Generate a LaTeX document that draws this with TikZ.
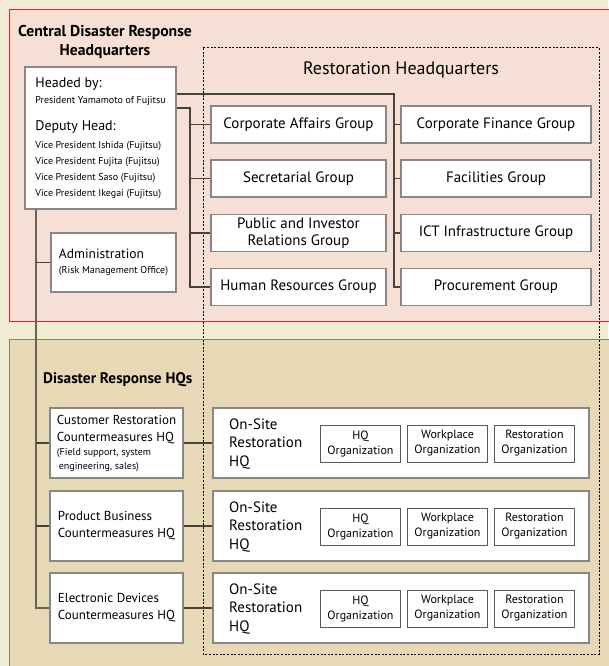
\documentclass[tikz,border=0pt]{standalone}
\usepackage{fontspec}
\setmainfont{PT Sans}
\usepackage{tikz}
\usetikzlibrary{positioning}
\definecolor{bgcream}{RGB}{239,235,212}
\definecolor{panelpink}{RGB}{246,223,213}
\definecolor{panelred}{RGB}{214,38,44}
\definecolor{paneltan}{RGB}{231,217,181}
\definecolor{tanline}{RGB}{140,136,85}
\definecolor{boxgray}{RGB}{135,135,135}
\definecolor{linegray}{RGB}{70,66,60}
\definecolor{trunkgray}{RGB}{105,98,88}
\tikzstyle{box}=[rectangle, draw=boxgray, fill=white, line width=1.4pt, inner sep=0pt]
\tikzstyle{group}=[box, minimum height=37pt, font=\fontsize{15}{16.5}\selectfont, align=center]
\tikzstyle{drbox}=[box, minimum width=133pt, minimum height=70pt, align=left, font=\fontsize{13}{17}\selectfont]
\tikzstyle{sitebox}=[box, minimum width=376pt, minimum height=70pt]
\tikzstyle{orgbox}=[box, draw=black!65, line width=1pt, minimum width=80pt, minimum height=37pt, font=\fontsize{12}{15}\selectfont, align=center]
\tikzstyle{conn}=[draw=linegray, line width=1.1pt]
\tikzstyle{trunk}=[draw=trunkgray, line width=1.8pt]

\begin{document}
\begin{tikzpicture}[x=1pt, y=-1pt]
        \useasboundingbox (0,0) rectangle (608,666);
        % background and the two panels
        \fill[bgcream] (0,0) rectangle (608,666);
        \fill[panelpink] (9,10) rectangle (612,321);
        \draw[panelred, line width=1pt] (612,10) -- (9,10) -- (9,321) -- (612,321);
        \fill[paneltan] (9,339) rectangle (612,670);
        \draw[tanline, line width=1pt] (612,339) -- (9,339) -- (9,670);
        \draw[dash pattern=on 2pt off 1.6pt, line width=1pt] (203,48) rectangle (599,654);

        \node[font=\bfseries\fontsize{15.7}{19}\selectfont, align=center] (cdrh) at (105,42) {Central Disaster Response\\Headquarters};
        \node[font=\fontsize{18}{20}\selectfont] (rhq) at (401,70) {Restoration Headquarters};
        \node[anchor=west, inner sep=0pt, font=\bfseries\fontsize{15.3}{17}\selectfont] (drhq) at (43,380) {Disaster Response HQs};

        \node[box, minimum width=151pt, minimum height=142pt, align=left, font=\fontsize{10}{16}\selectfont] (head) at (100.5,138)
          {{\fontsize{14}{16}\selectfont Headed by:}\\
           President Yamamoto of Fujitsu\\[11pt]
           {\fontsize{14}{16}\selectfont Deputy Head:}\\[2pt]
           Vice President Ishida (Fujitsu)\\
           Vice President Fujita (Fujitsu)\\
           Vice President Saso (Fujitsu)\\
           Vice President Ikegai (Fujitsu)};
        \node[box, minimum width=125pt, minimum height=59pt, align=left, font=\fontsize{13.5}{16}\selectfont] (admin) at (113.5,262.5)
          {Administration\\[-1pt]{\fontsize{10}{12}\selectfont(Risk Management Office)}};

        % restoration groups
        \node[group, minimum width=175pt] (corp) at (298.5,124.5) {Corporate Affairs Group};
        \node[group, minimum width=175pt] (secr) at (298.5,178.5) {Secretarial Group};
        \node[group, minimum width=175pt] (pir) at (298.5,233) {Public and Investor\\Relations Group};
        \node[group, minimum width=175pt] (hres) at (298.5,287) {Human Resources Group};
        \node[group, minimum width=190pt] (cfin) at (496,124.5) {Corporate Finance Group};
        \node[group, minimum width=190pt] (facil) at (496,178.5) {Facilities Group};
        \node[group, minimum width=190pt] (ict) at (496,233) {ICT Infrastructure Group};
        \node[group, minimum width=190pt] (proc) at (496,287) {Procurement Group};

        \coordinate (rj) at (394,94);
        \draw[conn] (head.east |- rj) -- (rj) |- (proc.west);
        \foreach \g in {cfin,facil,ict}
          \draw[conn] (rj |- \g.west) -- (\g.west);
        \coordinate (lj) at (190,108);
        \draw[conn] (head.east |- lj) -- (lj) |- (hres.west);
        \foreach \g in {corp,secr,pir}
          \draw[conn] (lj |- \g.west) -- (\g.west);

        % disaster response HQs
        \node[drbox] (cust) at (116.5,443)
          {Customer Restoration\\Countermeasures HQ\\[-3pt]
           {\fontsize{10}{12}\selectfont(Field support, system}\\[-3pt]
           {\fontsize{10}{12}\selectfont\hspace{2pt}engineering, sales)}};
        \node[drbox] (prod) at (116.5,526) {Product Business\\Countermeasures HQ};
        \node[drbox] (elec) at (116.5,608) {Electronic Devices\\Countermeasures HQ};

        \foreach \n/\y/\d in {1/443/cust, 2/526/prod, 3/608/elec} {
          \node[sitebox] (site\n) at (401,\y) {};
          \node[anchor=west, align=left, inner sep=0pt, font=\fontsize{15}{18.5}\selectfont] (stxt\n) at (229,\y+1) {On-Site\\Restoration\\HQ};
          \node[orgbox] (hqo\n) at (360.5,\y+0.5) {HQ\\Organization};
          \node[orgbox, right=6pt of hqo\n] (wpo\n) {Workplace\\Organization};
          \node[orgbox, right=6pt of wpo\n] (rso\n) {Restoration\\Organization};
          \draw[conn] (\d.east) -- (site\n.west);
        }

        \draw[trunk] (head.south west) ++(12,0) coordinate (tk) |- (elec.west);
        \foreach \d in {admin,cust,prod}
          \draw[conn] (tk |- \d.west) -- (\d.west);
      \end{tikzpicture}
\end{document}
